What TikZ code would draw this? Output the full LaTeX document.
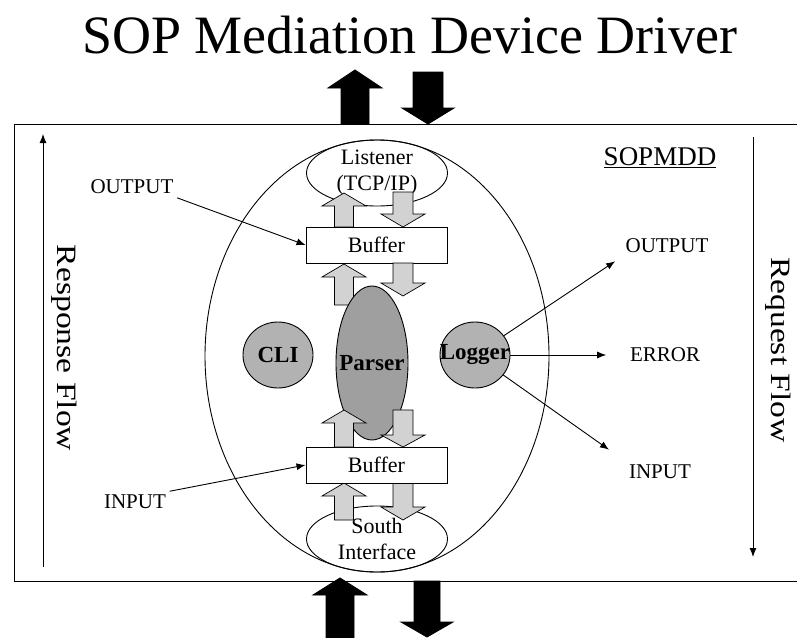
\documentclass[tikz,border=0pt]{standalone}
\usepackage{fontspec}
\usepackage{graphicx}
\setmainfont{Liberation Serif}
\usetikzlibrary{shapes.geometric, arrows.meta}

% fat block arrow: style, x, shaft half, head half, base y, head base y, tip y
\newcommand{\blockarrow}[7]{%
	\filldraw[#1] ({#2-#3},#5) -- ({#2-#3},#6) -- ({#2-#4},#6) -- (#2,#7)
		-- ({#2+#4},#6) -- ({#2+#3},#6) -- ({#2+#3},#5) -- cycle;}

\begin{document}
\begin{tikzpicture}[x=1pt, y=-1pt, line width=0.9pt,
		lbl/.style={font=\fontsize{21}{26}\selectfont},
		part/.style={draw, fill=white, minimum width=141pt, minimum height=36pt, font=\fontsize{22}{26}\selectfont},
		port/.style={draw, ellipse, minimum width=141pt, minimum height=66pt, inner sep=0pt, align=center, font=\fontsize{22}{26}\selectfont},
		blob/.style={draw, ellipse, fill=gray!60, inner sep=-12pt, font=\bfseries\fontsize{23}{26}\selectfont},
		flow/.style={font=\fontsize{28}{30}\selectfont, rotate=-90},
		grey/.style={fill=gray!35, draw=black, line width=0.7pt}]
		\def\up{344};
		\def\dn{403};
		
		\useasboundingbox (0,0) rectangle (797,637);
		
		\node[anchor=base, font=\fontsize{54}{60}\selectfont] (title) at (410,53) {SOP Mediation Device Driver};
		
		% frame and outer ellipse
		\draw (14,124) rectangle (812,581);
		\node[draw, ellipse, minimum width=344pt, minimum height=432pt] (sopmdd) at (377,356) {};
		\node[font=\fontsize{27}{30}\selectfont] (name) at (660,158) {\underline{SOPMDD}};
		
		\node[port] (listener) at (377,173) {Listener\\(TCP/IP)};
		\node[port] (south) at (377,539) {South\\Interface};
		
		% outside arrows
		\blockarrow{fill=black}{355}{14}{27}{124}{88}{70}
		\blockarrow{fill=black}{428}{15}{26}{72}{108}{124}
		\blockarrow{fill=black}{340}{14}{27}{640}{595}{578}
		\blockarrow{fill=black}{427}{13}{26}{581}{622}{637}
		
		% inner arrows
		\blockarrow{grey}{\up}{9.5}{22}{227}{206}{193}
		\blockarrow{grey}{\dn}{10}{22}{192}{214}{227}
		\blockarrow{grey}{\up}{9.5}{22}{305}{277}{264}
		\blockarrow{grey}{\up}{9.5}{22}{520}{496}{483}
		\blockarrow{grey}{\dn}{10}{22}{483}{507}{520}
		
		\node[part] (bufout) at (376.5,245) {Buffer};
		\node[part] (bufin) at (376.5,465) {Buffer};
		
		\node[blob, fill=gray!75, minimum width=72pt, minimum height=154pt] (parser) at (372,363) {Parser};
		\blockarrow{grey}{\dn}{10}{22}{263}{283}{296}
		\blockarrow{grey}{\up}{9.5}{22}{447}{423}{410}
		\blockarrow{grey}{\dn}{10}{22}{410}{435}{447}
		
		\node[blob, minimum width=70pt, minimum height=66pt] (cli) at (278,355) {CLI};
		\node[blob, minimum width=70pt, minimum height=66pt] (logger) at (475,355) {Logger};
		
		\node[lbl] (outL) at (132,187) {OUTPUT};
		\node[lbl] (inL) at (135,502) {INPUT};
		\node[lbl] (outR) at (667,246) {OUTPUT};
		\node[lbl] (err) at (665,355) {ERROR};
		\node[lbl] (inR) at (660,472) {INPUT};
		
		\node[flow] (resp) at (64,348) {\scalebox{1.2}[1]{Response Flow}};
		\node[flow] (req) at (778,350) {\scalebox{1.2}[1]{Request Flow}};
		\coordinate (rb) at (43,567);
		\coordinate (rt) at (43,134);
		\coordinate (qt) at (753,137);
		\coordinate (qb) at (753,557);
		
		\begin{scope}[-{Latex[length=9pt, width=7pt]}]
			\draw (outL.south east) -- (bufout.west);
			\draw (inL.north east) -- (bufin.west);
			\draw[shorten >=8pt] (logger) -- (outR.south west);
			\draw[shorten >=20pt] (logger) -- (err.west);
			\draw[shorten >=20pt] (logger) -- (inR.north west);
			\draw (rb) -- (rt);
			\draw (qt) -- (qb);
		\end{scope}
	\end{tikzpicture}
\end{document}
